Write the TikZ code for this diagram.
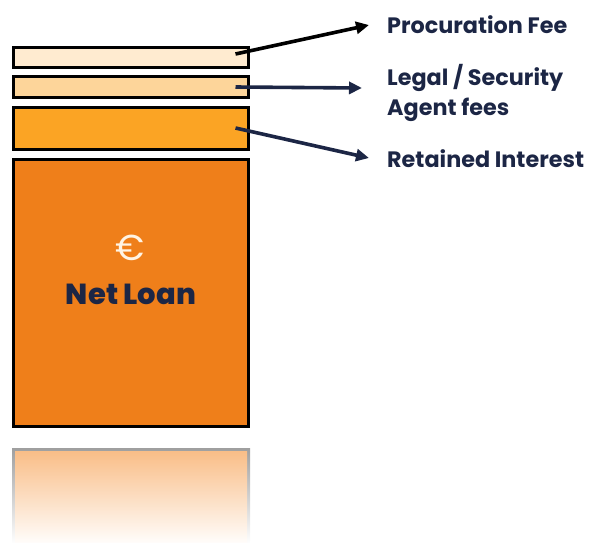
\documentclass[tikz,border=0pt]{standalone}
\usepackage{fontspec}
\setmainfont{Poppins}
\newfontfamily\heavyfont{Poppins ExtraBold}
\usetikzlibrary{arrows.meta}
\definecolor{navy}{HTML}{1C2645}
\definecolor{peachA}{HTML}{FFEBD0}
\definecolor{peachB}{HTML}{FDD59A}
\definecolor{orangeA}{HTML}{FBA424}
\definecolor{orangeB}{HTML}{EF7F1A}
\definecolor{reflA}{HTML}{F9BE88}
\definecolor{eurocol}{HTML}{FFF4E4}
\tikzset{
  layer/.style={draw=black, line width=3pt, minimum width=235pt, inner sep=0pt, outer sep=0pt},
  lbl/.style={anchor=base west, text=navy, font=\bfseries\fontsize{22.3}{30}\selectfont, inner sep=0pt, align=left},
  arr/.style={line width=3.6pt, -{Triangle[length=13pt,width=12pt]}},
}
\begin{document}
\begin{tikzpicture}[x=1pt,y=-1pt]
\useasboundingbox (0,0) rectangle (592,542);
% reflection
\node[inner sep=0pt, minimum width=238pt, minimum height=95pt, top color=gray!75, bottom color=white] (reflout) at (131,496) {};
\node[inner sep=0pt, minimum width=232pt, minimum height=92pt, top color=reflA, bottom color=white!97!reflA] (reflin) at (131,497.5) {};
% layers
\node[layer, fill=peachA, minimum height=20pt] (b1) at (131,57) {};
\node[layer, fill=peachB, minimum height=21pt] (b2) at (131,87) {};
\node[layer, fill=orangeA, minimum height=42pt] (b3) at (131,128) {};
\node[layer, fill=orangeB, minimum height=267pt] (b4) at (131,292.5) {};
\node[text=eurocol, font=\fontsize{36}{38}\selectfont, inner sep=0pt] (euro) at (130,248) {€};
\node[text=navy, font=\heavyfont\fontsize{29}{32}\selectfont, inner sep=0pt, anchor=base] (net) at (131,304) {Net Loan};
% labels
\node[lbl] (l1) at (387,33) {Procuration Fee};
\node[lbl] (l2) at (387,85) {Legal / Security};
\node[lbl] (l2b) at (387,115) {Agent fees};
\node[lbl] (l3) at (387,167) {Retained Interest};
\coordinate (t1) at (369,25);
\coordinate (t2) at (362,88);
\coordinate (t3) at (369,158);
% arrows
\draw[arr, black] ([xshift=-13pt,yshift=3pt]b1.east) -- (t1);
\draw[arr, navy] ([xshift=-13pt]b2.east) -- (t2);
\draw[arr, navy] ([xshift=-13pt]b3.east) -- (t3);
\end{tikzpicture}
\end{document}
